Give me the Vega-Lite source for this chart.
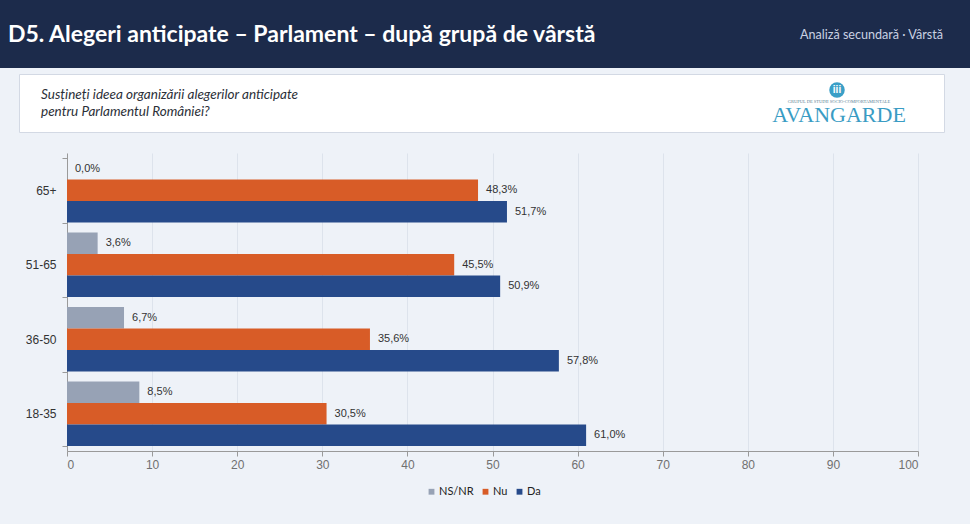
{
  "$schema": "https://vega.github.io/schema/vega-lite/v6.json",
  "background": "#eef2f8",
  "padding": {"left": 0, "top": 0, "right": 0, "bottom": 48},
  "spacing": 14,
  "config": {
    "view": {"stroke": null},
    "font": "Liberation Sans",
    "concat": {"spacing": 0}
  },
  "vconcat": [
    {
      "spacing": 5,
      "vconcat": [
        {
          "width": 970,
          "height": 68,
          "view": {"fill": "#1c2b4b", "stroke": null},
          "data": {"values": [{"title": "D5. Alegeri anticipate – Parlament – după grupă de vârstă", "tag": "Analiză secundară · Vârstă"}]},
          "layer": [
            {
              "mark": {"type": "text", "align": "left", "baseline": "middle", "font": "Lato", "fontWeight": "bold", "fontSize": 23, "color": "#ffffff"},
              "encoding": {"text": {"field": "title"}, "x": {"value": 8}, "y": {"value": 35}}
            },
            {
              "mark": {"type": "text", "align": "right", "baseline": "middle", "font": "Lato", "fontSize": 12.6, "color": "#c9d1e2"},
              "encoding": {"text": {"field": "tag"}, "x": {"value": 943}, "y": {"value": 35}}
            }
          ]
        },
        {
          "spacing": 0,
          "hconcat": [
            {
              "width": 18,
              "height": 58,
              "data": {"values": [{}]},
              "mark": {"type": "point", "opacity": 0, "size": 1, "strokeWidth": 0},
              "encoding": {}
            },
            {
              "width": 925,
              "height": 58,
              "view": {"fill": "#ffffff", "stroke": "#d3d9e4", "strokeWidth": 1},
              "data": {"values": [{
                "question": "Susțineți ideea organizării alegerilor anticipate\npentru Parlamentul României?",
                "brand": "AVANGARDE",
                "tagline": "GRUPUL DE STUDII SOCIO-COMPORTAMENTALE",
                "glyph": "iii"
              }]},
              "layer": [
                {
                  "mark": {"type": "text", "align": "left", "baseline": "middle", "font": "Lato", "fontStyle": "italic", "fontSize": 13.5, "color": "#2b2f38", "lineBreak": "\n", "lineHeight": 17},
                  "encoding": {"text": {"field": "question"}, "x": {"value": 22}, "y": {"value": 21}}
                },
                {
                  "mark": {"type": "point", "shape": "circle", "filled": true, "size": 240, "color": "#3a9fc7", "opacity": 1},
                  "encoding": {"x": {"value": 818}, "y": {"value": 16}}
                },
                {
                  "mark": {"type": "text", "align": "center", "baseline": "middle", "font": "Liberation Sans", "fontWeight": "bold", "fontSize": 10, "color": "#ffffff"},
                  "encoding": {"text": {"field": "glyph"}, "x": {"value": 818}, "y": {"value": 16}}
                },
                {
                  "mark": {"type": "text", "align": "center", "baseline": "middle", "font": "Liberation Serif", "fontSize": 4.5, "color": "#5a7f95"},
                  "encoding": {"text": {"field": "tagline"}, "x": {"value": 820}, "y": {"value": 27.5}}
                },
                {
                  "mark": {"type": "text", "align": "center", "baseline": "alphabetic", "font": "Liberation Serif", "fontSize": 22, "color": "#3a9cc4"},
                  "encoding": {"text": {"field": "brand"}, "x": {"value": 820}, "y": {"value": 48}}
                }
              ]
            }
          ]
        }
      ]
    },
    {
      "spacing": 0,
      "hconcat": [
        {
          "width": 1,
          "height": 298,
          "data": {"values": [{}]},
          "mark": {"type": "point", "opacity": 0, "size": 1, "strokeWidth": 0},
          "encoding": {}
        },
        {
          "width": 851,
          "height": 298,
          "data": {
            "values": [
              {"grupa": "65+", "raspuns": "NS/NR", "val": 0.0},
              {"grupa": "65+", "raspuns": "Nu", "val": 48.3},
              {"grupa": "65+", "raspuns": "Da", "val": 51.7},
              {"grupa": "51-65", "raspuns": "NS/NR", "val": 3.6},
              {"grupa": "51-65", "raspuns": "Nu", "val": 45.5},
              {"grupa": "51-65", "raspuns": "Da", "val": 50.9},
              {"grupa": "36-50", "raspuns": "NS/NR", "val": 6.7},
              {"grupa": "36-50", "raspuns": "Nu", "val": 35.6},
              {"grupa": "36-50", "raspuns": "Da", "val": 57.8},
              {"grupa": "18-35", "raspuns": "NS/NR", "val": 8.5},
              {"grupa": "18-35", "raspuns": "Nu", "val": 30.5},
              {"grupa": "18-35", "raspuns": "Da", "val": 61.0}
            ]
          },
          "transform": [
            {"calculate": "replace(format(datum.val, '.1f'), '.', ',') + '%'", "as": "label"}
          ],
          "encoding": {
            "y": {
              "field": "grupa",
              "type": "nominal",
              "sort": ["65+", "51-65", "36-50", "18-35"],
              "scale": {"paddingInner": 0.134, "paddingOuter": 0.067},
              "axis": {
                "title": null,
                "tickBand": "extent",
                "grid": false,
                "domainColor": "#9a9a9a",
                "tickColor": "#9a9a9a",
                "tickSize": 5,
                "labelPadding": 6,
                "labelFontSize": 12,
                "labelColor": "#333333",
                "minExtent": 66
              }
            },
            "yOffset": {
              "field": "raspuns",
              "type": "nominal",
              "sort": ["NS/NR", "Nu", "Da"],
              "scale": {"paddingInner": 0, "paddingOuter": 0}
            },
            "x": {
              "field": "val",
              "type": "quantitative",
              "scale": {"domain": [0, 100], "nice": false},
              "axis": {
                "title": null,
                "values": [0, 10, 20, 30, 40, 50, 60, 70, 80, 90, 100],
                "grid": true,
                "gridColor": "#dde3ec",
                "domainColor": "#9a9a9a",
                "tickColor": "#9a9a9a",
                "tickSize": 5,
                "labelPadding": 3,
                "labelFontSize": 12,
                "labelColor": "#707070"
              }
            }
          },
          "layer": [
            {
              "mark": {"type": "bar"},
              "encoding": {
                "color": {
                  "field": "raspuns",
                  "type": "nominal",
                  "scale": {"domain": ["NS/NR", "Nu", "Da"], "range": ["#97a2b5", "#d85c27", "#264a8a"]},
                  "legend": {
                    "orient": "none",
                    "legendX": 426,
                    "legendY": 486,
                    "direction": "horizontal",
                    "title": null,
                    "symbolType": "square",
                    "symbolSize": 34,
                    "symbolStrokeWidth": 0,
                    "labelFont": "Lato",
                    "labelFontSize": 11,
                    "labelColor": "#222222",
                    "labelOffset": 2,
                    "columnPadding": 6
                  }
                }
              }
            },
            {
              "mark": {"type": "text", "align": "left", "baseline": "middle", "dx": 8, "fontSize": 11, "color": "#333333"},
              "encoding": {"text": {"field": "label"}}
            }
          ]
        }
      ]
    }
  ]
}
